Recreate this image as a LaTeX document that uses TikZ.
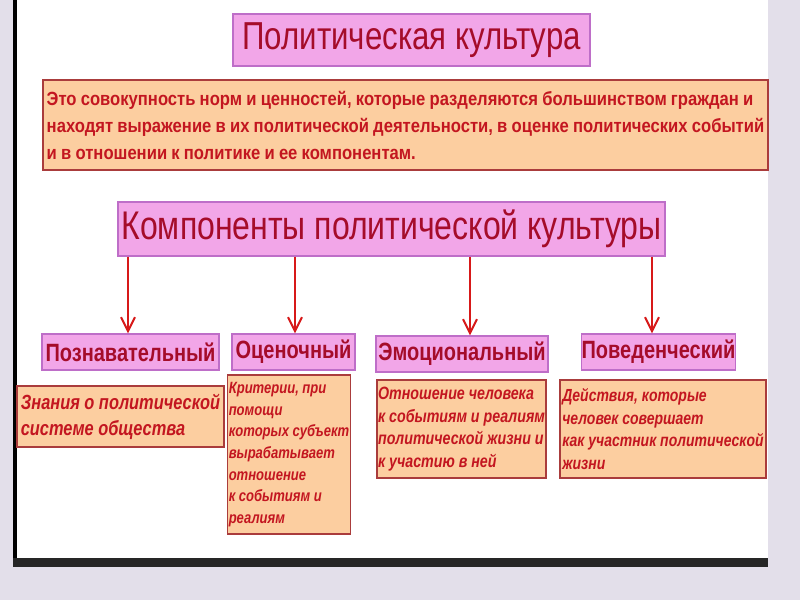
\documentclass[tikz,border=0pt]{standalone}
\usepackage{fontspec}
\setmainfont[FakeStretch=0.8]{Liberation Sans}
\newfontfamily\deffont[FakeStretch=0.87]{Liberation Sans}
\newcommand{\tsp}{\spaceskip=0.22em plus 0.02em\relax}
\usetikzlibrary{arrows.meta}
\definecolor{bgl}{RGB}{227,223,234}
\definecolor{pinkf}{RGB}{242,166,232}
\definecolor{pinkd}{RGB}{190,110,200}
\definecolor{peachf}{RGB}{252,206,160}
\definecolor{peachd}{RGB}{170,60,60}
\definecolor{ttxt}{RGB}{165,12,42}
\definecolor{rtxt}{RGB}{195,22,32}
\definecolor{arr}{RGB}{215,25,25}
\tikzset{
  pinkbox/.style={draw=pinkd, fill=pinkf, line width=1.2pt, inner sep=0pt, anchor=center, text=ttxt},
  peachbox/.style={draw=peachd, fill=peachf, line width=1.2pt, inner sep=1pt, anchor=center, text=rtxt, align=left},
  conn/.style={draw=arr, line width=2pt, -{Straight Barb[length=14pt,width=14pt,line width=2pt]}}
}
\begin{document}
\begin{tikzpicture}[x=1pt,y=-1pt]
\useasboundingbox (0,0) rectangle (800,600);
\fill[bgl] (0,0) rectangle (800,600);
\fill[white] (16,0) rectangle (768,560);
\fill[black] (13,0) rectangle (17,562);
\fill[black!85] (13,558) rectangle (768,567);

\node[pinkbox, minimum width=357pt, minimum height=52pt, font=\fontsize{39}{42}\selectfont\tsp] (title) at (411.5,40) {Политическая культура};

\node[peachbox, font=\deffont\bfseries\fontsize{19.1}{27}\selectfont\tsp, minimum width=725pt, minimum height=90pt] (def) at (405.5,125)
{Это совокупность норм и ценностей, которые разделяются большинством граждан и\\
находят выражение в их политической деятельности, в оценке политических событий\\
и в отношении к политике и ее компонентам.};

\node[pinkbox, minimum width=547pt, minimum height=54pt, font=\fontsize{40}{44}\selectfont\tsp] (comp) at (391.5,229) {Компоненты политической культуры};

\node[pinkbox, minimum width=177pt, minimum height=36pt, font=\bfseries\fontsize{25}{28}\selectfont] (p1) at (130.5,352) {Познавательный};
\node[pinkbox, minimum width=123pt, minimum height=36pt, font=\bfseries\fontsize{25}{28}\selectfont] (p2) at (293.5,352) {Оценочный};
\node[pinkbox, minimum width=172pt, minimum height=36pt, font=\bfseries\fontsize{25}{28}\selectfont] (p3) at (462,354) {Эмоциональный};
\node[pinkbox, minimum width=153pt, minimum height=36pt, font=\bfseries\fontsize{25}{28}\selectfont] (p4) at (658.5,352) {Поведенческий};

\coordinate (a1) at (128,0);
\coordinate (a2) at (295,0);
\coordinate (a3) at (470,0);
\coordinate (a4) at (652,0);
\draw[conn] (comp.south -| a1) -- (p1.north -| a1);
\draw[conn] (comp.south -| a2) -- (p2.north -| a2);
\draw[conn] (comp.south -| a3) -- (p3.north -| a3);
\draw[conn] (comp.south -| a4) -- (p4.north -| a4);

\node[peachbox, minimum width=207pt, minimum height=61pt, font=\bfseries\itshape\fontsize{20.5}{26}\selectfont\tsp] (d1) at (120.5,416.5)
{Знания о политической\\системе общества};
\node[peachbox, minimum width=122pt, minimum height=159pt, font=\bfseries\itshape\fontsize{16.3}{21.6}\selectfont\tsp] (d2) at (289,454.5)
{Критерии, при\\помощи\\которых субъект\\вырабатывает\\отношение\\к событиям и\\реалиям};
\node[peachbox, minimum width=169pt, minimum height=98pt, font=\bfseries\itshape\fontsize{17.8}{22.5}\selectfont\tsp] (d3) at (461.5,429)
{Отношение человека\\к событиям и реалиям\\политической жизни и\\к участию в ней};
\node[peachbox, minimum width=206pt, minimum height=98pt, font=\bfseries\itshape\fontsize{17.5}{22.5}\selectfont\tsp] (d4) at (663,429)
{Действия, которые\\человек совершает\\как участник политической\\жизни};
\end{tikzpicture}
\end{document}
